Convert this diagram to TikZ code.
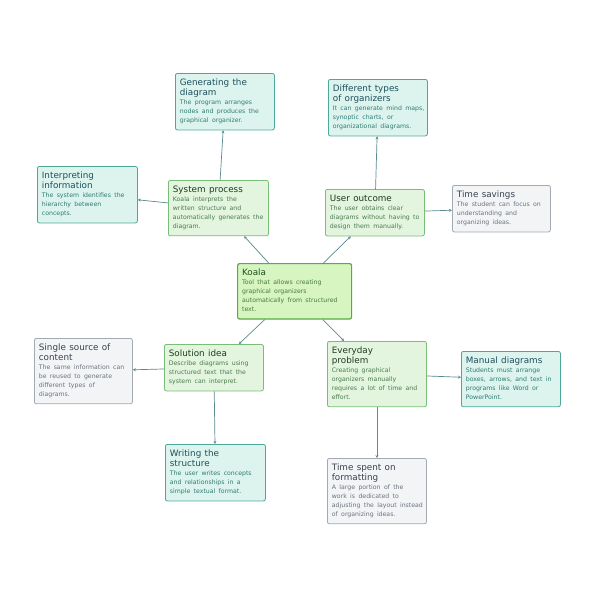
\documentclass[tikz,border=0pt]{standalone}
\usepackage{fontspec}
\setmainfont{DejaVu Sans}[WordSpace=0.9]
\usetikzlibrary{arrows.meta}
\definecolor{tealfill}{HTML}{DDF4EE}
\definecolor{tealdraw}{HTML}{4DA89A}
\definecolor{tealtitle}{HTML}{1D4F5C}
\definecolor{tealbody}{HTML}{2E7C74}
\definecolor{greenfill}{HTML}{E3F5DF}
\definecolor{greendraw}{HTML}{78BE76}
\definecolor{greentitle}{HTML}{1F3A22}
\definecolor{greenbody}{HTML}{4B7A4D}
\definecolor{grayfill}{HTML}{F3F4F6}
\definecolor{graydraw}{HTML}{A3AAB3}
\definecolor{graytitle}{HTML}{374151}
\definecolor{graybody}{HTML}{6B7280}
\definecolor{koalafill}{HTML}{D6F5C1}
\definecolor{koaladraw}{HTML}{5BAA42}
\definecolor{koalatitle}{HTML}{1C521C}
\definecolor{koalabody}{HTML}{4A7A3A}
\definecolor{edgecol}{HTML}{5A8A92}
\newcommand{\ttl}{\fontsize{8.8}{10}\selectfont}
\newcommand{\bdy}{\fontsize{6.2}{8.9}\selectfont}
\newcommand{\bt}[4]{\noindent{\color{#1}\ttl\begin{tabular}[t]{@{}l@{}}#2\end{tabular}\par}\vspace{-1.2pt}\noindent{\color{#3}\bdy\begin{tabular}[t]{@{}l@{}}#4\end{tabular}\par}}
\tikzset{
  box/.style={rectangle, rounded corners=2pt, line width=0.8pt, anchor=north west,
    inner xsep=4.5pt, inner ysep=5pt},
  tealbox/.style={box, fill=tealfill, draw=tealdraw},
  greenbox/.style={box, fill=greenfill, draw=greendraw},
  graybox/.style={box, fill=grayfill, draw=graydraw},
  koalabox/.style={box, fill=koalafill, draw=koaladraw, line width=1.2pt},
  edge/.style={draw=edgecol, line width=0.7pt, -{Stealth[length=3pt,width=3pt]}}
}
\begin{document}
\begin{tikzpicture}[x=1pt,y=-1pt]
\useasboundingbox (0,0) rectangle (595,595);
\fill[white] (0,0) rectangle (595,595);
% teal
\node[tealbox, text width=90pt] (gen) at (175,73)
  {\bt{tealtitle}{Generating the\\diagram}{tealbody}{The program arranges\\nodes and produces the\\graphical organizer.}};
\node[tealbox, text width=90pt] (diff) at (328,79)
  {\bt{tealtitle}{Different types\\of organizers}{tealbody}{It can generate mind maps,\\synoptic charts, or\\organizational diagrams.}};
\node[tealbox, text width=91pt] (interp) at (37,166)
  {\bt{tealtitle}{Interpreting\\information}{tealbody}{The system identifies the\\hierarchy between\\concepts.}};
\node[tealbox, text width=90pt] (manual) at (461,351)
  {\bt{tealtitle}{Manual diagrams}{tealbody}{Students must arrange\\boxes, arrows, and text in\\programs like Word or\\PowerPoint.}};
\node[tealbox, text width=91pt] (write) at (165,444)
  {\bt{tealtitle}{Writing the\\structure}{tealbody}{The user writes concepts\\and relationships in a\\simple textual format.}};
% green
\node[greenbox, text width=91pt] (sys) at (168,180)
  {\bt{greentitle}{System process}{greenbody}{Koala interprets the\\written structure and\\automatically generates the\\diagram.}};
\node[greenbox, text width=90pt] (user) at (325,189)
  {\bt{greentitle}{User outcome}{greenbody}{The user obtains clear\\diagrams without having to\\design them manually.}};
\node[greenbox, text width=90pt] (sol) at (164,344)
  {\bt{greentitle}{Solution idea}{greenbody}{Describe diagrams using\\structured text that the\\system can interpret.}};
\node[greenbox, text width=90pt] (every) at (327,341)
  {\bt{greentitle}{Everyday\\problem}{greenbody}{Creating graphical\\organizers manually\\requires a lot of time and\\effort.}};
% gray
\node[graybox, text width=89pt] (time) at (452,185)
  {\bt{graytitle}{Time savings}{graybody}{The student can focus on\\understanding and\\organizing ideas.}};
\node[graybox, text width=89pt] (single) at (34,338)
  {\bt{graytitle}{Single source of\\content}{graybody}{The same information can\\be reused to generate\\different types of\\diagrams.}};
\node[graybox, text width=90pt] (spent) at (327,458)
  {\bt{graytitle}{Time spent on\\formatting}{graybody}{A large portion of the\\work is dedicated to\\adjusting the layout instead\\of organizing ideas.}};
% root
\node[koalabox, text width=105pt] (koala) at (237,263)
  {\bt{koalatitle}{Koala}{koalabody}{Tool that allows creating\\graphical organizers\\automatically from structured\\text.}};
% edges
\draw[edge] (koala) -- (sys);
\draw[edge] (koala) -- (user);
\draw[edge] (koala) -- (sol);
\draw[edge] (koala) -- (every);
\draw[edge] (sys) -- (gen);
\draw[edge] (sys) -- (interp);
\draw[edge] (user) -- (diff);
\draw[edge] (user) -- (time);
\draw[edge] (sol) -- (single);
\draw[edge] (sol) -- (write);
\draw[edge] (every) -- (manual);
\draw[edge] (every) -- (spent);
\end{tikzpicture}
\end{document}
